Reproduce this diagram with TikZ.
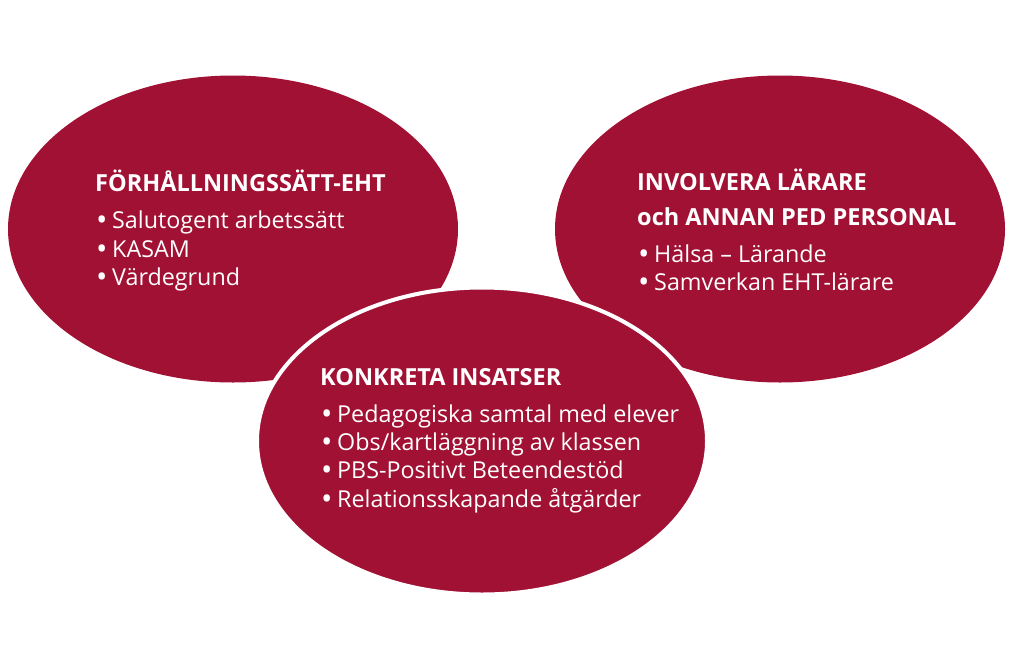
\documentclass[tikz,border=0pt]{standalone}
\usepackage{fontspec}
\setmainfont{Open Sans}
\usetikzlibrary{shapes.geometric}
\definecolor{crim}{RGB}{161,17,52}
\tikzset{
  blob/.style={ellipse, fill=crim, minimum width=450pt, minimum height=307pt, inner sep=0pt},
  topblob/.style={blob, draw=white, line width=4pt},
  ttl/.style={anchor=base west, inner sep=0pt, text=white, font=\fontsize{23.5}{28}\selectfont\bfseries},
  itm/.style={anchor=base west, inner sep=0pt, text=white, font=\fontsize{23.3}{28}\selectfont},
}
\newcommand{\bul}[1]{\makebox[16pt][l]{\raisebox{-2.8pt}{\scalebox{1.3}{•}}}#1}
\begin{document}
\begin{tikzpicture}[x=1pt,y=-1pt]
\useasboundingbox (0,0) rectangle (1024,651);
\node[blob] (left) at (233,229) {};
\node[blob] (right) at (780,229) {};
\node[topblob] (bottom) at (482,441) {};
% left
\node[ttl] (lt) at (95,191) {FÖRHÅLLNINGSSÄTT-EHT};
\node[itm] (l1) at (96,228) {\bul{Salutogent arbetssätt}};
\node[itm] (l2) at (96,257) {\bul{KASAM}};
\node[itm] (l3) at (96,285) {\bul{Värdegrund}};
% right
\node[ttl] (rt1) at (637,190) {INVOLVERA LÄRARE};
\node[ttl] (rt2) at (637,225) {och ANNAN PED PERSONAL};
\node[itm] (r1) at (638,262) {\bul{Hälsa – Lärande}};
\node[itm] (r2) at (638,290) {\bul{Samverkan EHT-lärare}};
% bottom
\node[ttl] (bt) at (320,385) {KONKRETA INSATSER};
\node[itm] (b1) at (321,422) {\bul{Pedagogiska samtal med elever}};
\node[itm] (b2) at (321,450) {\bul{Obs/kartläggning av klassen}};
\node[itm] (b3) at (321,478) {\bul{PBS-Positivt Beteendestöd}};
\node[itm] (b4) at (321,507) {\bul{Relationsskapande åtgärder}};
\end{tikzpicture}
\end{document}
